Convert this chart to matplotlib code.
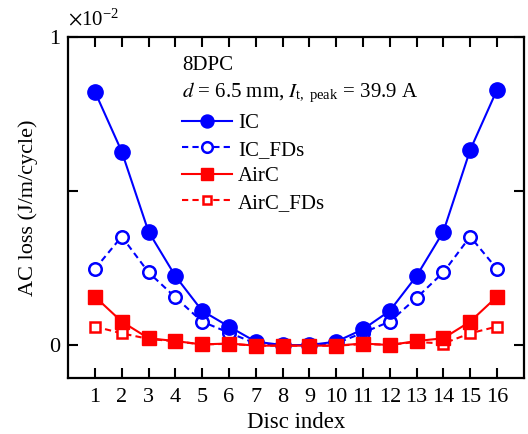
import matplotlib
matplotlib.use("Agg")
import matplotlib.pyplot as plt

# AC loss per disc, in units of 1e-2 J/m/cycle
disc = list(range(1, 17))
ic = [0.822, 0.628, 0.368, 0.224, 0.111, 0.060, 0.011, 0.000,
      0.000, 0.011, 0.051, 0.111, 0.224, 0.368, 0.633, 0.828]
ic_fds = [0.247, 0.352, 0.236, 0.155, 0.076, 0.040, 0.005, 0.000,
          0.000, 0.005, 0.040, 0.076, 0.153, 0.236, 0.352, 0.247]
airc = [0.157, 0.076, 0.022, 0.013, 0.002, 0.005, -0.002, -0.002,
        -0.002, -0.002, 0.005, 0.000, 0.013, 0.022, 0.076, 0.157]
airc_fds = [0.060, 0.038, 0.020, 0.012, 0.002, 0.004, -0.002, -0.002,
            -0.002, -0.002, 0.003, 0.001, 0.010, 0.005, 0.038, 0.060]

BLUE = "#0000ff"
RED = "#ff0000"

plt.rcParams["font.family"] = ["Liberation Serif", "DejaVu Serif"]
plt.rcParams["mathtext.fontset"] = "stix"

fig = plt.figure(figsize=(5.28, 4.34), dpi=100)
ax = fig.add_axes([0.129, 0.129, 0.863, 0.786])

dash = (0, (3, 2))
ax.plot(disc, ic_fds, color=BLUE, lw=1.5, ls=dash, marker="o", ms=9,
        mfc="white", mec=BLUE, mew=1.8, label="IC_FDs", zorder=3)
ax.plot(disc, ic, color=BLUE, lw=1.5, marker="o", ms=11,
        mfc=BLUE, mec=BLUE, label="IC", zorder=4)
ax.plot(disc, airc_fds, color=RED, lw=1.5, ls=dash, marker="s", ms=7.5,
        mfc="white", mec=RED, mew=1.8, label="AirC_FDs", zorder=5)
ax.plot(disc, airc, color=RED, lw=1.5, marker="s", ms=10,
        mfc=RED, mec=RED, label="AirC", zorder=6)

ax.set_xlim(0, 17)
ax.set_ylim(-0.107, 1.0)
ax.set_xticks(disc)
ax.set_yticks([0, 0.5, 1])
ax.set_yticklabels(["0", "", "1"])
ax.tick_params(direction="in", length=7, width=1.5, top=True, right=True,
               labelsize=16, pad=6)
ax.tick_params(axis="x", pad=7)
for s in ax.spines.values():
    s.set_linewidth(1.6)

ax.set_xlabel("Disc index", fontsize=16.5, labelpad=4)
ax.set_ylabel("AC loss (J/m/cycle)", fontsize=16, labelpad=8)

ax.text(0.0, 1.02, r"$\times$10$^{\mathregular{-2}}$", transform=ax.transAxes,
        fontsize=15, ha="left", va="bottom")
ax.text(0.25, 0.915, "8DPC", transform=ax.transAxes, fontsize=15,
        ha="left", va="center")
ax.text(0.25, 0.835, r"$d$ = 6.5 mm, $I_{\mathregular{t,\ peak}}$ = 39.9 A",
        transform=ax.transAxes, fontsize=15, ha="left", va="center")

h, l = ax.get_legend_handles_labels()
order = [1, 0, 3, 2]
ax.legend([h[i] for i in order], [l[i] for i in order], frameon=False,
          loc="upper left", bbox_to_anchor=(0.25, 0.775), fontsize=15,
          handlelength=2.4, handletextpad=0.3, labelspacing=0.33,
          borderpad=0.0, borderaxespad=0.0, markerscale=0.85)

fig.savefig("out.png", dpi=100)
